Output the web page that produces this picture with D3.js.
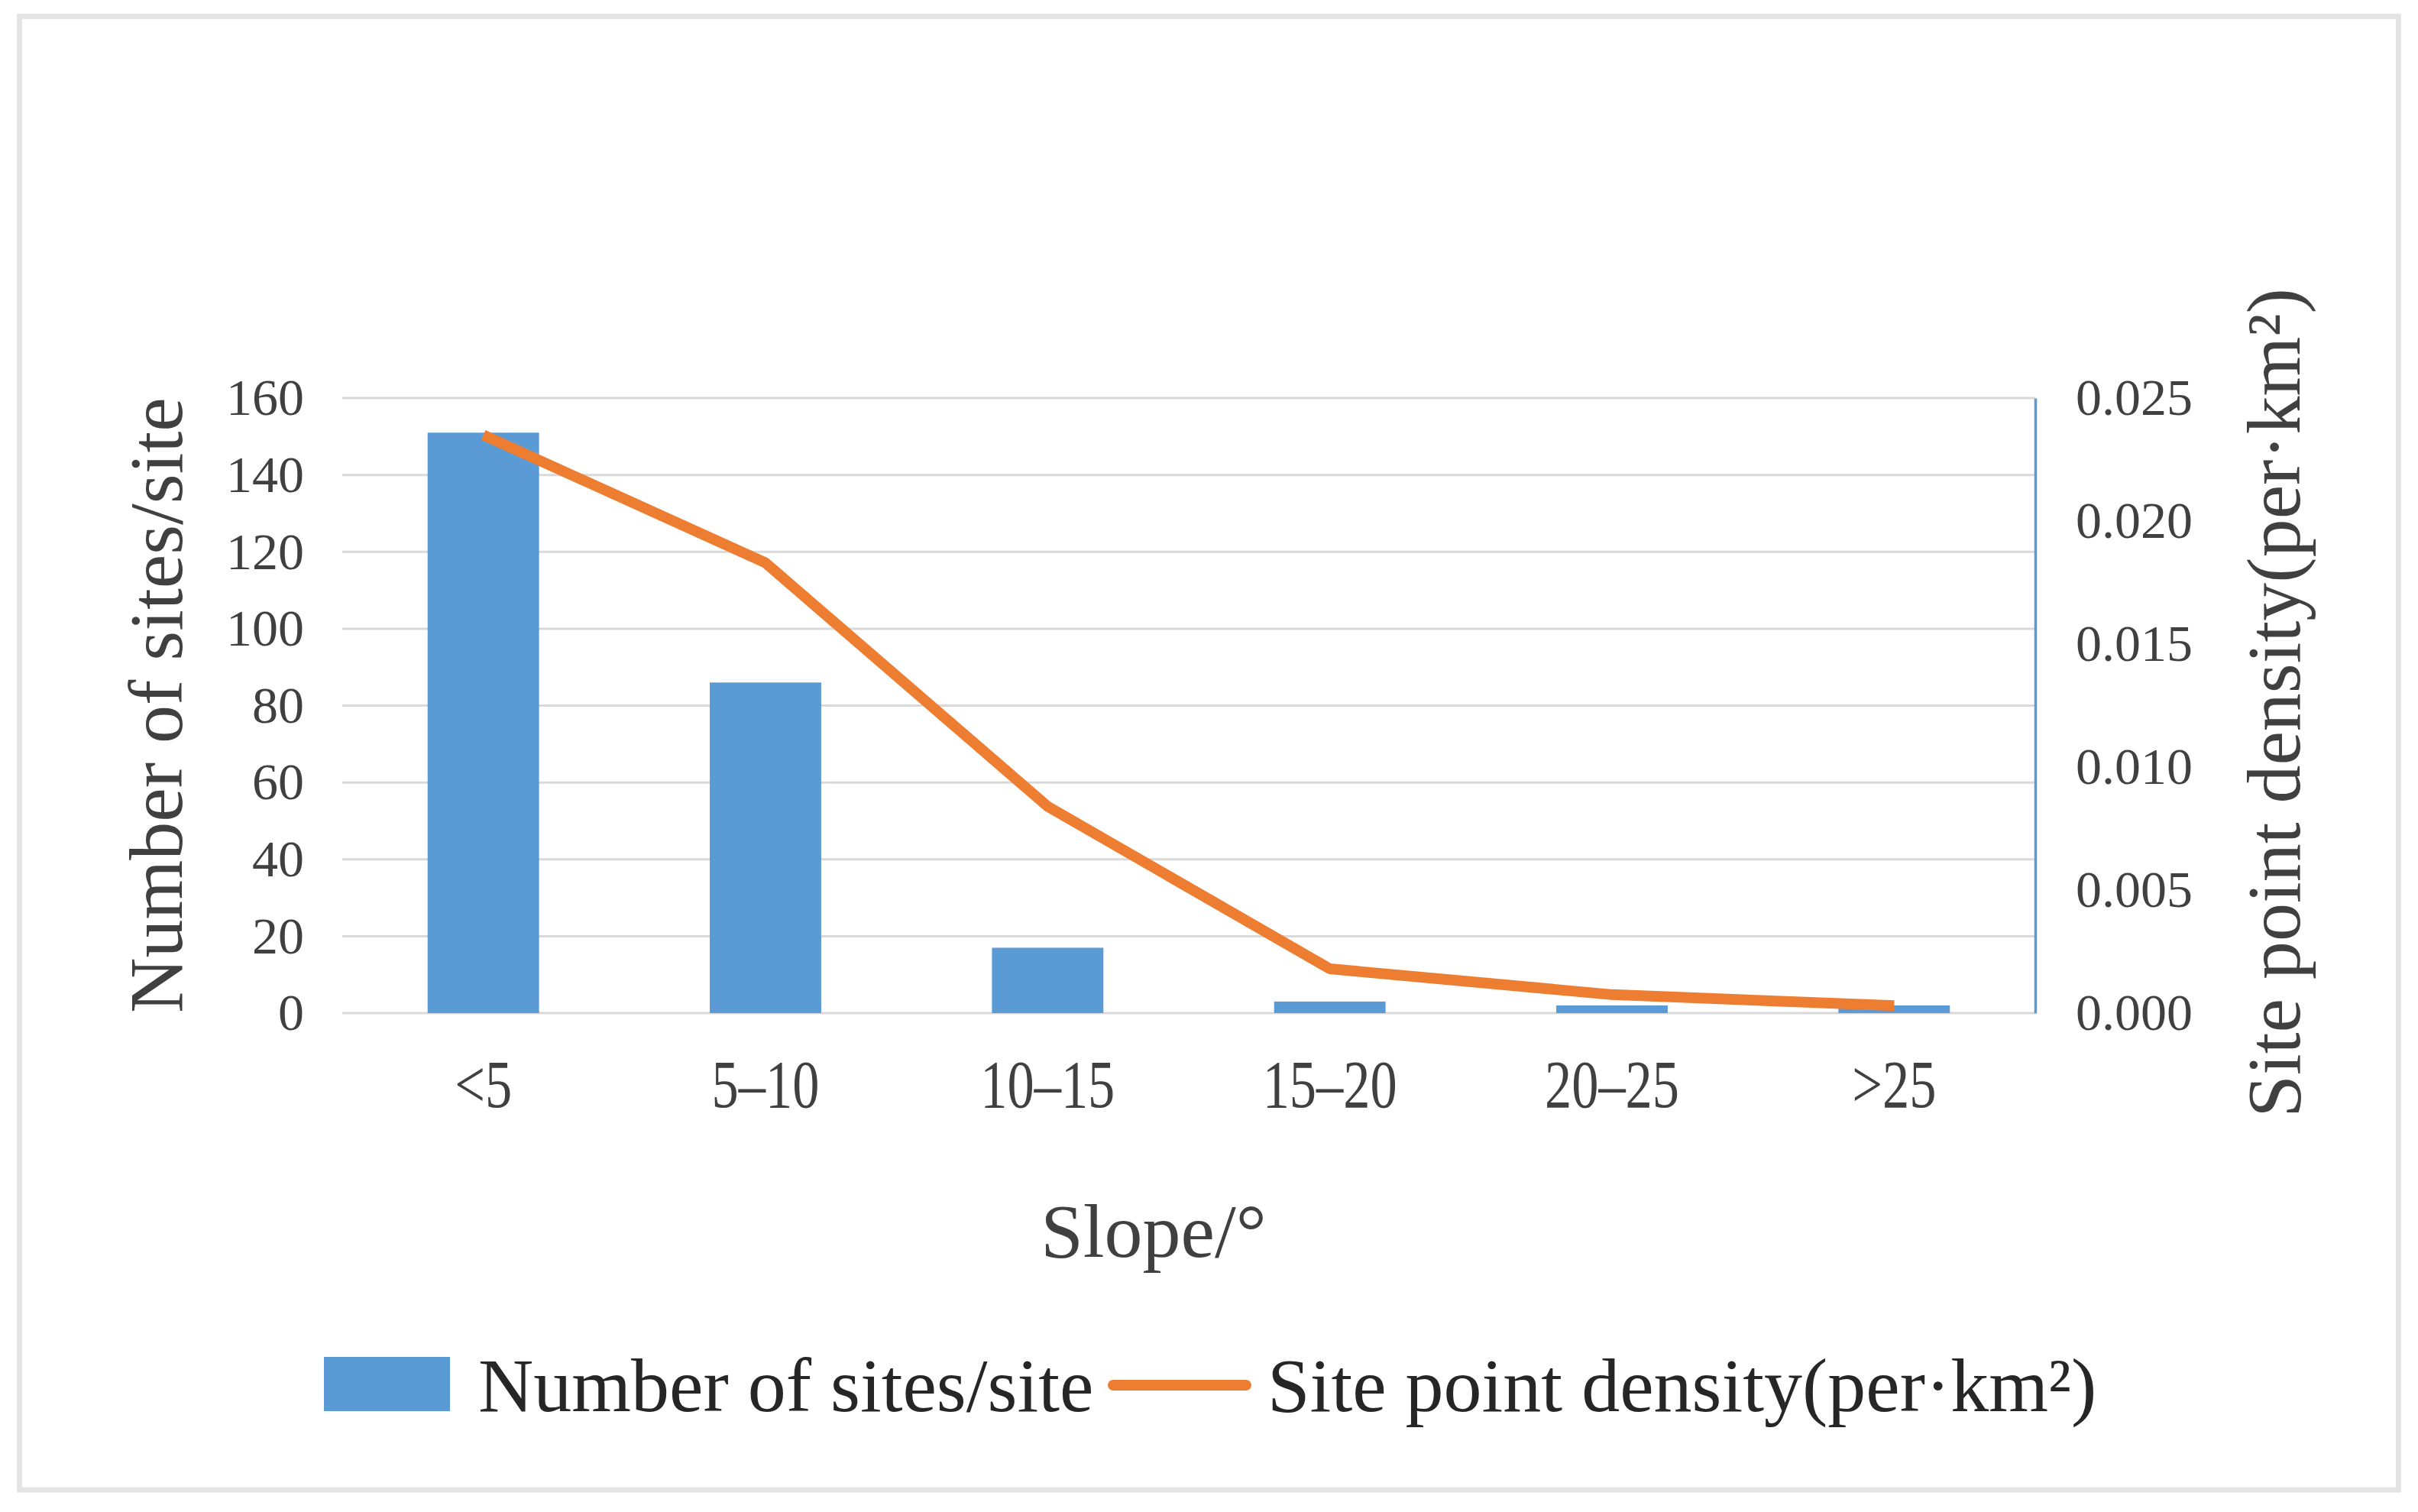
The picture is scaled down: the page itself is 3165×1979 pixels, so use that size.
<!DOCTYPE html>
<html>
<head>
<meta charset="utf-8">
<script src="https://cdn.jsdelivr.net/npm/d3@7"></script>
<style>
  html, body { margin: 0; padding: 0; background: #ffffff; }
  svg { display: block; }
</style>
</head>
<body>
<script>
const categories = ["<5", "5\u201310", "10\u201315", "15\u201320", "20\u201325", ">25"];
const siteCounts = [151, 86, 17, 3, 2, 2];
const siteDensity = [0.0235, 0.0183, 0.0084, 0.0018, 0.00075, 0.0003];
const leftTicks = [0, 20, 40, 60, 80, 100, 120, 140, 160];
const rightTicks = [0, 0.005, 0.010, 0.015, 0.020, 0.025];
const barName = "Number of sites/site";
const lineName = "Site point density(per\u00b7km\u00b2)";
const xTitle = "Slope/\u00b0";

const W = 3165, H = 1979;
const plot = { left: 448, right: 2664, top: 521, bottom: 1326 };
const FONT = "'Liberation Serif', 'Times New Roman', serif";

const svg = d3.select("body").append("svg")
  .attr("width", W).attr("height", H)
  .attr("font-family", FONT);

svg.append("rect").attr("width", W).attr("height", H).attr("fill", "#ffffff");
// outer frame
svg.append("rect")
  .attr("x", 25.5).attr("y", 21.5)
  .attr("width", 3139.5 - 25.5).attr("height", 1950 - 21.5)
  .attr("fill", "none").attr("stroke", "#e4e4e4").attr("stroke-width", 7);

const x = d3.scaleBand().domain(categories)
  .range([plot.left, plot.right])
  .paddingInner(0.605).paddingOuter(0.3025);
const yL = d3.scaleLinear().domain([0, 160]).range([plot.bottom, plot.top]);
const yR = d3.scaleLinear().domain([0, 0.025]).range([plot.bottom, plot.top]);

// gridlines
svg.append("g").selectAll("line").data(leftTicks).join("line")
  .attr("x1", plot.left).attr("x2", plot.right)
  .attr("y1", d => yL(d)).attr("y2", d => yL(d))
  .attr("stroke", "#d9d9d9").attr("stroke-width", 3);

// left axis (labels only)
const axL = svg.append("g").attr("transform", `translate(${plot.left},0)`)
  .call(d3.axisLeft(yL).tickValues(leftTicks).tickSize(0).tickPadding(50).tickFormat(d3.format("d")));
axL.select(".domain").remove();
axL.selectAll("text").attr("font-size", 68).attr("font-family", FONT).attr("fill", "#404040");

// right axis
const axR = svg.append("g").attr("transform", `translate(${plot.right},0)`)
  .call(d3.axisRight(yR).tickValues(rightTicks).tickSize(0).tickPadding(53).tickFormat(d3.format(".3f")));
axR.select(".domain").attr("stroke", "#5b9bd5").attr("stroke-width", 3.5);
axR.selectAll("text").attr("font-size", 68).attr("font-family", FONT).attr("fill", "#404040");

// bars
svg.append("g").selectAll("rect").data(categories).join("rect")
  .attr("x", d => x(d))
  .attr("width", x.bandwidth())
  .attr("y", (d, i) => yL(siteCounts[i]))
  .attr("height", (d, i) => yL(0) - yL(siteCounts[i]))
  .attr("fill", "#5b9bd5");

// line
const line = d3.line()
  .x((d, i) => x(categories[i]) + x.bandwidth() / 2)
  .y(d => yR(d));
svg.append("path").datum(siteDensity)
  .attr("d", line)
  .attr("fill", "none").attr("stroke", "#ed7d31")
  .attr("stroke-width", 14).attr("stroke-linejoin", "round");

// x axis labels
const axB = svg.append("g").attr("transform", `translate(0,${plot.bottom})`)
  .call(d3.axisBottom(x).tickSize(0).tickPadding(0));
axB.select(".domain").remove();
axB.selectAll(".tick text")
  .attr("font-size", 88).attr("font-family", FONT).attr("fill", "#404040")
  .attr("dy", 0).attr("y", 0)
  .attr("transform", "translate(0,123) scale(0.8,1)");

// axis titles
svg.append("text").text(xTitle)
  .attr("x", 1510).attr("y", 1645).attr("text-anchor", "middle")
  .attr("font-size", 100).attr("fill", "#404040");

svg.append("text").text(barName)
  .attr("transform", "translate(238,923) rotate(-90)")
  .attr("text-anchor", "middle")
  .attr("font-size", 100).attr("fill", "#404040");

svg.append("text").text(lineName)
  .attr("transform", "translate(3010,920) rotate(-90)")
  .attr("text-anchor", "middle")
  .attr("font-size", 100).attr("fill", "#404040");

// legend
const lg = svg.append("g");
lg.append("rect").attr("x", 424).attr("y", 1776).attr("width", 165).attr("height", 71).attr("fill", "#5b9bd5");
lg.append("text").text(barName).attr("x", 626).attr("y", 1847)
  .attr("font-size", 100).attr("fill", "#262626");
lg.append("line").attr("x1", 1457).attr("x2", 1631).attr("y1", 1813).attr("y2", 1813)
  .attr("stroke", "#ed7d31").attr("stroke-width", 14).attr("stroke-linecap", "round");
lg.append("text").text(lineName).attr("x", 1659).attr("y", 1847)
  .attr("font-size", 100).attr("fill", "#262626");
</script>
</body>
</html>
